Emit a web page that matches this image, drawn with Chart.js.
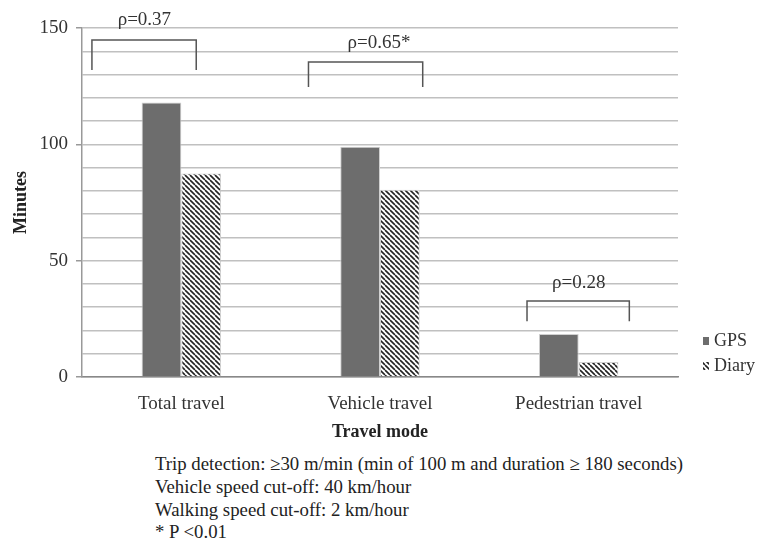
<!DOCTYPE html>
<html>
<head>
<meta charset="utf-8">
<script src="https://cdn.jsdelivr.net/npm/chart.js@4"></script>
<style>
  body { margin: 0; background: #fff; width: 777px; height: 545px; overflow: hidden; position: relative; }
  #wrap { position: absolute; left: 0; top: 0; width: 777px; height: 445px; }
  #notes { position: absolute; left: 155px; top: 453px; font-family: "Liberation Serif", serif; font-size: 18.8px; line-height: 22.8px; color: #222; }
</style>
</head>
<body>
<div id="wrap"><canvas id="chart" width="777" height="445"></canvas></div>
<div id="notes">
  Trip detection: ≥30 m/min (min of 100 m and duration ≥ 180 seconds)<br>
  Vehicle speed cut-off: 40 km/hour<br>
  Walking speed cut-off: 2 km/hour<br>
  * P &lt;0.01
</div>
<script>
/* global document, Chart */

let categories = ['Total travel', 'Vehicle travel', 'Pedestrian travel'];
let gpsMinutes = [118, 99, 18.5];
let diaryMinutes = [87.5, 80.5, 6.5];
let yTicks = [0, 50, 100, 150];

// correlation brackets (x as offset from category index, y in minutes)
let rhoLabels = ['ρ=0.37', 'ρ=0.65*', 'ρ=0.28'];
let bracketFrom = [-0.45, -0.36, -0.26];
let bracketTo = [0.075, 0.215, 0.255];
let bracketTop = [144.8, 135.4, 32.7];
let bracketFoot = [132, 124.6, 24];
let rhoX = [-0.186, -0.005, 0];
let rhoY = [153.4, 143.4, 40.4];

const serif = '"Liberation Serif", "Times New Roman", serif';

function stripes() {
    let c = document.createElement('canvas');
    c.width = 5; c.height = 5;
    let g = c.getContext('2d');
    g.fillStyle = '#fff';
    g.fillRect(0, 0, 5, 5);
    g.strokeStyle = '#222';
    g.lineWidth = 1.6;
    for (let k = -5; k <= 10; k += 5) {
        g.beginPath();
        g.moveTo(k, 0);
        g.lineTo(k + 5, 5);
        g.stroke();
    }
    return g.createPattern(c, 'repeat');
}
let diaryFill = stripes();

let bracketPlugin = {
    id: 'brackets',
    afterDatasetsDraw(chart) {
        let ctx = chart.ctx;
        let x = chart.scales.x, y = chart.scales.y;
        let step = x.getPixelForValue(1) - x.getPixelForValue(0);
        ctx.save();
        ctx.strokeStyle = '#555';
        ctx.lineWidth = 1.5;
        for (let i = 0; i < rhoLabels.length; i++) {
            let x0 = x.getPixelForValue(i) + bracketFrom[i] * step;
            let x1 = x.getPixelForValue(i) + bracketTo[i] * step;
            let yt = y.getPixelForValue(bracketTop[i]);
            let yf = y.getPixelForValue(bracketFoot[i]);
            ctx.beginPath();
            ctx.moveTo(x0, yf);
            ctx.lineTo(x0, yt);
            ctx.lineTo(x1, yt);
            ctx.lineTo(x1, yf);
            ctx.stroke();
            ctx.fillStyle = '#333';
            ctx.font = '19px ' + serif;
            ctx.textAlign = 'center';
            ctx.textBaseline = 'middle';
            ctx.fillText(rhoLabels[i], x.getPixelForValue(i) + rhoX[i] * step, y.getPixelForValue(rhoY[i]));
        }

        // legend
        let ly = [341, 366];
        let names = ['GPS', 'Diary'];
        let fills = ['#6d6d6d', diaryFill];
        for (let i = 0; i < 2; i++) {
            ctx.fillStyle = fills[i];
            ctx.fillRect(703, ly[i] - 4, 6, 8);
            ctx.fillStyle = '#333';
            ctx.font = '18px ' + serif;
            ctx.textAlign = 'left';
            ctx.fillText(names[i], 714, ly[i]);
        }
        ctx.restore();
    }
};

new Chart(document.getElementById('chart'), {
    type: 'bar',
    data: {
        labels: categories,
        datasets: [
            { label: 'GPS', data: gpsMinutes, backgroundColor: '#6d6d6d', borderColor: '#d0d0d0', borderWidth: 1 },
            { label: 'Diary', data: diaryMinutes, backgroundColor: diaryFill, borderColor: '#d0d0d0', borderWidth: 1 }
        ]
    },
    options: {
        responsive: false,
        animation: false,
        categoryPercentage: 0.4,
        barPercentage: 1,
        layout: { padding: { top: 28, right: 99, left: 0, bottom: 0 } },
        plugins: { legend: { display: false }, tooltip: { enabled: false } },
        scales: {
            x: {
                grid: { display: false },
                border: { color: '#888', width: 1.5 },
                ticks: { color: '#333', font: { family: serif, size: 19 }, padding: 8, autoSkip: false, maxRotation: 0 },
                title: { display: true, text: 'Travel mode', color: '#222', font: { family: serif, size: 18, weight: 'bold' }, padding: { top: 0, bottom: 2 } },
                afterFit: s => { s.height = 68; }
            },
            y: {
                min: 0,
                max: 150,
                afterBuildTicks: s => {
                    let t = [];
                    for (let v = 0; v <= 150; v += 10) t.push({ value: v });
                    s.ticks = t;
                },
                grid: {
                    color: '#c0c0c0',
                    lineWidth: 1.5,
                    tickLength: 6,
                    tickColor: c => (yTicks.includes(c.tick.value) ? '#999' : 'rgba(0,0,0,0)')
                },
                border: { color: '#999', width: 1.5 },
                ticks: {
                    color: '#333',
                    font: { family: serif, size: 19 },
                    padding: 8,
                    autoSkip: false,
                    callback: v => (yTicks.includes(v) ? v : '')
                },
                title: { display: true, text: 'Minutes', color: '#222', font: { family: serif, size: 18, weight: 'bold' }, padding: { top: 11, bottom: 0 } },
                afterFit: s => { s.width = 82; }
            }
        }
    },
    plugins: [bracketPlugin]
});
</script>
</body>
</html>
